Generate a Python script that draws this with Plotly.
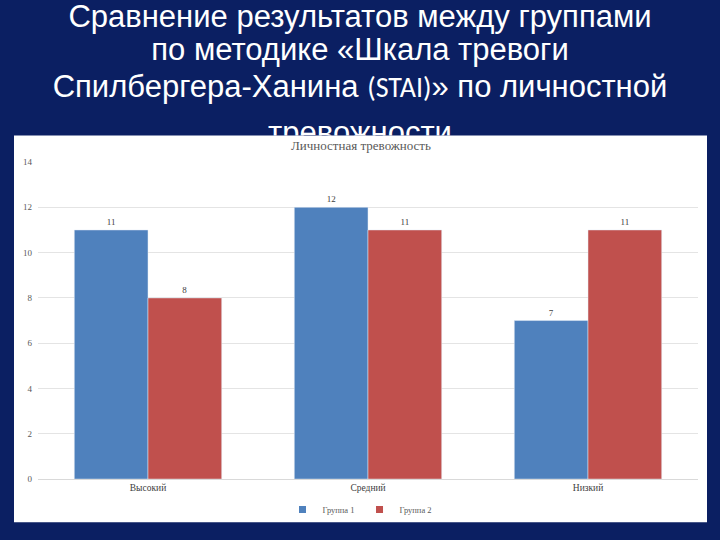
import plotly.graph_objects as go

# ---- data ----
categories = ["Высокий", "Средний", "Низкий"]
group1 = [11, 12, 7]
group2 = [8, 11, 11]
series_names = ["Группа 1", "Группа 2"]
y_ticks = [0, 2, 4, 6, 8, 10, 12, 14]
chart_title = "Личностная тревожность"
title_lines = [
    "Сравнение результатов между группами",
    "по методике «Шкала тревоги",
    "Спилбергера-Ханина <span style=\"font-family:Carlito, 'Open Sans', sans-serif;font-size:28px\">(STAI)</span>» по личностной",
    "тревожности",
]
# vertical centre of each title line, in pixels from the top of the slide
title_line_px = [14, 48, 86, 133]

W, H = 720, 540
NAVY = "#0b1f62"
BLUE = "#4f81bd"
RED = "#c0504d"
SERIF = "Liberation Serif, Times New Roman, serif"
colors = [BLUE, RED]

fig = go.Figure()

for name, vals, col in zip(series_names, [group1, group2], colors):
    fig.add_trace(go.Bar(
        x=categories, y=vals, name=name, marker_color=col,
        text=vals, textposition="outside", showlegend=False,
        textfont=dict(family=SERIF, size=9, color="#404040"), cliponaxis=False,
    ))
# legend entries with small square keys
for name, col in zip(series_names, colors):
    fig.add_trace(go.Scatter(
        x=[None], y=[None], mode="markers", name=name,
        marker=dict(symbol="square", size=7, color=col),
    ))

panel_top = 133
# big slide title, clipped by its own subplot region (the panel hides the last line)
fig.add_trace(go.Scatter(
    x=[0] * len(title_lines), y=title_line_px,
    text=title_lines, mode="text", textposition="middle center",
    textfont=dict(family="Liberation Sans, Arial, sans-serif", size=31, color="white"),
    xaxis="x2", yaxis="y2", showlegend=False, hoverinfo="skip", cliponaxis=True,
))

fig.update_layout(
    width=W, height=H,
    margin=dict(l=0, r=0, t=0, b=0),
    paper_bgcolor=NAVY,
    plot_bgcolor="rgba(0,0,0,0)",
    barmode="group", bargap=0.33, bargroupgap=0,
    xaxis=dict(domain=[38 / W, 698 / W], showgrid=False, showline=True,
               linecolor="#d9d9d9", ticks="", zeroline=False,
               tickfont=dict(family=SERIF, size=9.5, color="#404040")),
    yaxis=dict(domain=[(H - 483) / H, (H - 160) / H], range=[0, 14],
               tickvals=y_ticks, showgrid=True, gridcolor="#e4e4e4", gridwidth=1,
               zeroline=False, showline=False, ticks="", ticklabelstandoff=5,
               tickfont=dict(family=SERIF, size=9, color="#595959")),
    xaxis2=dict(domain=[0, 1], range=[-1, 1], visible=False, fixedrange=True),
    yaxis2=dict(domain=[(H - panel_top) / H, 1], range=[panel_top, 0],
                visible=False, fixedrange=True),
    legend=dict(orientation="h", x=0.5, xanchor="center", y=(H - 514) / H,
                yanchor="middle", font=dict(family=SERIF, size=8.5, color="#595959"),
                bgcolor="rgba(0,0,0,0)", itemwidth=30, tracegroupgap=0),
    showlegend=True,
    shapes=[dict(type="rect", xref="paper", yref="paper",
                 x0=14 / W, x1=707 / W, y0=(H - 527) / H, y1=(H - panel_top) / H,
                 fillcolor="white", line=dict(width=0), layer="below")],
    annotations=[dict(text=chart_title, xref="paper", yref="paper",
                      x=361 / W, y=(H - 143) / H, showarrow=False,
                      xanchor="center", yanchor="middle",
                      font=dict(family=SERIF, size=13, color="#595959"))],
)

fig.write_html("out.html")
